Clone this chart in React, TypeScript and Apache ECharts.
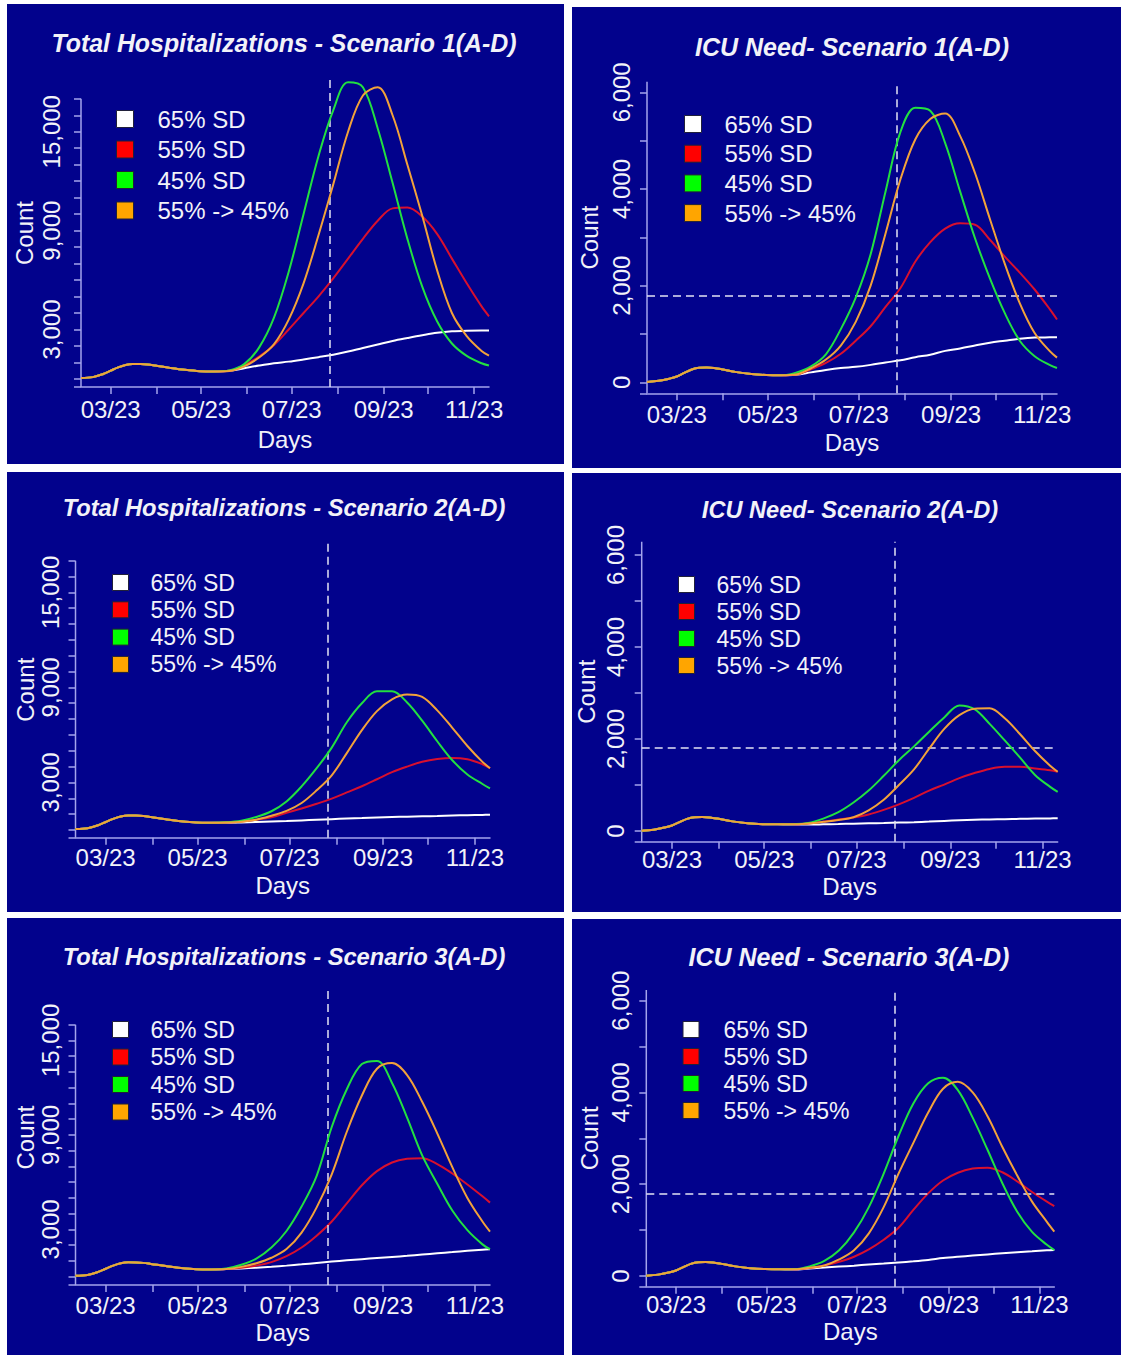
import React, { useEffect, useRef } from 'react';
import * as echarts from 'echarts';

// ---------- data ----------
const days = [-20, -12, -5, 0, 5, 10, 15, 20, 25, 30, 40, 50, 60, 70, 80, 90, 100, 110, 120, 130, 140, 150, 160, 170, 180, 190, 200, 210, 220, 230, 240, 250, 255];
const tickDays = [0, 31, 61, 92, 122, 153, 184, 214, 245];
const labelDays = [0, 61, 122, 184, 245];
const dayLabels = ['03/23', '05/23', '07/23', '09/23', '11/23'];
const seriesNames = ['65% SD', '55% SD', '45% SD', '55% -> 45%'];
const interventionDay = 147.5;
const icuCapacity = 1800;

const hospTicks = [0, 1000, 2000, 3000, 4000, 5000, 6000, 7000, 8000, 9000, 10000, 11000, 12000, 13000, 14000, 15000, 16000, 17000];
const hospTicksS3 = [0, 1000, 2000, 3000, 4000, 5000, 6000, 7000, 8000, 9000, 10000, 11000, 12000, 13000, 14000, 15000, 16000];
const hospLabels = [3000, 9000, 15000];
const icuTicks = [0, 1000, 2000, 3000, 4000, 5000, 6000];
const icuLabels = [0, 2000, 4000, 6000];

// common early part (days -20 .. 70)
const hospEarly = [60, 110, 300, 500, 700, 850, 910, 905, 875, 810, 670, 550, 470, 455];
const icuEarly = [5, 30, 75, 120, 195, 265, 300, 305, 295, 270, 210, 170, 150, 145];

// days 80 .. 250, 255
const hospS1White = [490, 650, 810, 950, 1050, 1180, 1320, 1470, 1660, 1880, 2090, 2300, 2480, 2650, 2800, 2890, 2930, 2940, 2940];
const hospS1Red = [490, 850, 1350, 2050, 3000, 4000, 5000, 6100, 7300, 8500, 9600, 10350, 10400, 9850, 8800, 7300, 5800, 4400, 3800];
const hospS1Green = [520, 900, 1900, 3700, 6500, 10000, 13500, 16300, 18000, 17700, 15200, 11900, 8500, 5600, 3500, 2150, 1400, 950, 810];
const hospS1Orange = [480, 760, 1300, 2100, 3600, 5800, 8700, 11800, 15000, 17200, 17700, 16000, 13000, 9900, 6600, 4000, 2600, 1700, 1414];

const icuS1White = [155, 205, 255, 295, 320, 360, 410, 455, 520, 570, 650, 700, 760, 820, 860, 900, 925, 930, 931];
const icuS1Red = [160, 270, 400, 590, 860, 1160, 1560, 1950, 2500, 2900, 3180, 3290, 3260, 2950, 2600, 2270, 1920, 1520, 1300];
const icuS1Green = [200, 330, 580, 1100, 1750, 2650, 3950, 5180, 5680, 5620, 4950, 3950, 2980, 2150, 1430, 860, 540, 360, 295];
const icuS1Orange = [160, 290, 470, 760, 1250, 2000, 3080, 4200, 5030, 5450, 5560, 5100, 4330, 3380, 2450, 1640, 1020, 650, 510];

const hospS2White = [450, 470, 500, 530, 560, 600, 640, 680, 720, 750, 780, 810, 840, 860, 880, 910, 930, 950, 955];
const hospS2Red = [470, 540, 650, 800, 1080, 1350, 1650, 1980, 2370, 2760, 3200, 3650, 4000, 4300, 4480, 4550, 4460, 4150, 3910];
const hospS2Green = [480, 580, 820, 1180, 1800, 2750, 3900, 5200, 6800, 8000, 8750, 8750, 8050, 6900, 5600, 4400, 3500, 2900, 2620];
const hospS2Orange = [470, 520, 650, 900, 1200, 1700, 2500, 3450, 4850, 6300, 7500, 8250, 8550, 8400, 7550, 6450, 5300, 4300, 3900];

const icuS2White = [140, 140, 145, 152, 160, 168, 175, 183, 192, 205, 220, 235, 245, 252, 258, 265, 270, 275, 277];
const icuS2Red = [145, 165, 200, 250, 295, 360, 460, 580, 720, 880, 1010, 1150, 1260, 1350, 1395, 1395, 1360, 1320, 1290];
const icuS2Green = [150, 175, 270, 410, 620, 880, 1200, 1540, 1840, 2160, 2470, 2730, 2650, 2330, 1970, 1600, 1220, 960, 850];
const icuS2Orange = [145, 165, 200, 240, 300, 450, 680, 1000, 1340, 1790, 2220, 2520, 2660, 2670, 2450, 2110, 1740, 1420, 1290];

const hospS3White = [480, 520, 570, 630, 700, 780, 870, 960, 1040, 1110, 1180, 1250, 1320, 1400, 1480, 1560, 1640, 1710, 1740];
const hospS3Red = [480, 560, 700, 920, 1300, 1850, 2600, 3500, 4650, 5800, 6700, 7250, 7480, 7520, 7150, 6550, 5850, 5100, 4700];
const hospS3Green = [520, 760, 1150, 1850, 2900, 4450, 6400, 9500, 11900, 13500, 13700, 12300, 10100, 7700, 5900, 4200, 2950, 2050, 1740];
const hospS3Orange = [480, 620, 850, 1200, 1750, 2800, 4400, 6500, 9200, 11500, 13200, 13560, 12800, 11100, 9100, 6950, 5000, 3500, 2860];

const icuS3White = [140, 165, 185, 205, 225, 250, 270, 295, 320, 350, 390, 420, 445, 470, 495, 520, 540, 560, 566];
const icuS3Red = [145, 175, 230, 310, 420, 580, 790, 1050, 1440, 1800, 2080, 2250, 2340, 2360, 2260, 2060, 1830, 1620, 1525];
const icuS3Green = [150, 210, 330, 560, 950, 1500, 2230, 3050, 3760, 4200, 4320, 4050, 3450, 2750, 2020, 1400, 960, 680, 566];
const icuS3Orange = [145, 180, 230, 360, 560, 930, 1500, 2230, 2900, 3560, 4080, 4230, 4000, 3480, 2810, 2190, 1620, 1180, 966];

// ---------- style ----------
const BG = '#02028C';
const AXIS = '#A4A4EC';
const TEXT = '#F2F2F8';
const FONT = '"Liberation Sans", Arial, Helvetica, sans-serif';
const lineColors = ['#FFFFFF', '#D8102E', '#22E040', '#F2A23A'];
const legendColors = ['#FFFFFF', '#FF0000', '#00FF00', '#FFA500'];

const panels = [
  {
    box: [7, 4, 557, 460], grid: [74, 75, 408, 308], title: 'Total Hospitalizations - Scenario 1(A-D)', titlePos: [277, 39], titleSize: 24.9,
    yMin: -490, yMax: 18200, axisTop: 17000, ticks: hospTicks, labels: hospLabels, early: hospEarly,
    vals: [hospS1White, hospS1Red, hospS1Green, hospS1Orange], hLine: false,
    legend: [109, 103, 6.5, 17, 24, 19], countGap: 45, daysGap: 40, xMargin: 10, yMargin: 18,
  },
  {
    box: [572, 7, 549, 461], grid: [75, 74.7, 410, 311.6], title: 'ICU Need- Scenario 1(A-D)', titlePos: [280, 40], titleSize: 25,
    yMin: -228, yMax: 6220, axisTop: 6220, ticks: icuTicks, labels: icuLabels, early: icuEarly,
    vals: [icuS1White, icuS1Red, icuS1Green, icuS1Orange], hLine: true,
    legend: [112, 105, 5.7, 17, 24, 18], countGap: 46, daysGap: 37, xMargin: 9, yMargin: 14,
  },
  {
    box: [7, 472, 557, 440], grid: [68.5, 69.7, 414.5, 296], title: 'Total Hospitalizations - Scenario 2(A-D)', titlePos: [277, 36], titleSize: 23.7,
    yMin: -490, yMax: 18200, axisTop: 17000, ticks: hospTicks, labels: hospLabels, early: hospEarly,
    vals: [hospS2White, hospS2Red, hospS2Green, hospS2Orange], hLine: false,
    legend: [105, 99, 4.3, 16, 23, 17], countGap: 38, daysGap: 36, xMargin: 8, yMargin: 13,
  },
  {
    box: [572, 473, 549, 439], grid: [69.7, 68.7, 416, 300], title: 'ICU Need- Scenario 2(A-D)', titlePos: [278, 37], titleSize: 23.6,
    yMin: -232, yMax: 6290, axisTop: 6290, ticks: icuTicks, labels: icuLabels, early: icuEarly,
    vals: [icuS2White, icuS2Red, icuS2Green, icuS2Orange], hLine: true,
    legend: [106, 100, 4, 16, 23, 17], countGap: 43, daysGap: 33, xMargin: 6, yMargin: 14,
  },
  {
    box: [7, 918, 557, 437], grid: [68.5, 72, 414.5, 295], title: 'Total Hospitalizations - Scenario 3(A-D)', titlePos: [277, 38.7], titleSize: 23.7,
    yMin: -530, yMax: 18200, axisTop: 16000, ticks: hospTicksS3, labels: hospLabels, early: hospEarly,
    vals: [hospS3White, hospS3Red, hospS3Green, hospS3Orange], hLine: false,
    legend: [105, 100, 4.5, 16, 23, 17], countGap: 38, daysGap: 35, xMargin: 8, yMargin: 13,
  },
  {
    box: [572, 919, 549, 436], grid: [74.3, 71, 408, 296.7], title: 'ICU Need - Scenario 3(A-D)', titlePos: [277, 37.7], titleSize: 25,
    yMin: -233, yMax: 6231, axisTop: 6231, ticks: icuTicks, labels: icuLabels, early: icuEarly,
    vals: [icuS3White, icuS3Red, icuS3Green, icuS3Orange], hLine: true,
    legend: [110.5, 99, 4, 16, 23, 19.5], countGap: 45, daysGap: 33, xMargin: 6, yMargin: 14,
  },
];

const X_MIN = -20;
const X_MAX = 255;

function buildOption(cfg: any) {
  const dashed = { type: [8, 5], color: '#E4E4F4', width: 1.5 };
  const markData: any[] = [{ xAxis: interventionDay, lineStyle: dashed }];
  if (cfg.hLine) markData.push({ yAxis: icuCapacity, lineStyle: dashed });

  const series: any[] = cfg.vals.map((late: number[], i: number) => {
    const vals = cfg.early.concat(late);
    return {
      name: seriesNames[i],
      type: 'line',
      data: days.map((d, j) => [d, vals[j]]),
      smooth: 0.35,
      showSymbol: false,
      symbol: 'none',
      lineStyle: { color: lineColors[i], width: 2 },
      itemStyle: { color: lineColors[i] },
      z: 3 + i,
      markLine: i === 0 ? { silent: true, symbol: ['none', 'none'], label: { show: false }, data: markData } : undefined,
    };
  });
  // left axis line, drawn from the axis minimum to its last tick
  series.push({
    name: 'axis',
    type: 'line',
    data: [[X_MIN, cfg.yMin], [X_MIN, cfg.axisTop]],
    showSymbol: false,
    symbol: 'none',
    clip: false,
    silent: true,
    lineStyle: { color: AXIS, width: 1.5 },
    z: 2,
  });

  const [lgLeft, lgTop, lgGap, lgSize, lgFont, lgPad] = cfg.legend;
  const [gl, gt, gw, gh] = cfg.grid;
  const textBase = { color: TEXT, fontFamily: FONT, fontSize: 24 };

  return {
    animation: false,
    backgroundColor: BG,
    grid: { left: gl, top: gt, width: gw, height: gh, containLabel: false, outerBoundsMode: 'none' },
    graphic: [
      {
        type: 'text', x: cfg.titlePos[0], y: cfg.titlePos[1],
        style: {
          text: cfg.title, fill: TEXT, font: `italic bold ${cfg.titleSize}px ${FONT}`,
          align: 'center', verticalAlign: 'middle',
        },
      },
    ],
    legend: {
      data: seriesNames.map((n, i) => ({ name: n, itemStyle: { color: legendColors[i], borderColor: '#20203a', borderWidth: 1 } })),
      orient: 'vertical', left: lgLeft, top: lgTop, itemGap: lgGap, itemWidth: lgSize, itemHeight: lgSize,
      icon: 'rect', padding: 0, selectedMode: false,
      textStyle: { color: TEXT, fontFamily: FONT, fontSize: lgFont, padding: [0, 0, 0, lgPad] },
    },
    xAxis: {
      type: 'value', min: X_MIN, max: X_MAX,
      name: 'Days', nameLocation: 'middle', nameGap: cfg.daysGap, nameTextStyle: textBase, nameMoveOverlap: false,
      axisLine: { show: true, onZero: false, lineStyle: { color: AXIS, width: 1.5 } },
      axisTick: { show: true, inside: false, length: 7, customValues: tickDays, lineStyle: { color: AXIS, width: 1.5 } },
      axisLabel: {
        customValues: labelDays, margin: cfg.xMargin, ...textBase,
        formatter: (v: number) => dayLabels[labelDays.indexOf(Math.round(v))] ?? '',
      },
      splitLine: { show: false },
    },
    yAxis: {
      type: 'value', min: cfg.yMin, max: cfg.yMax,
      name: 'Count', nameLocation: 'middle', nameGap: cfg.countGap, nameTextStyle: textBase, nameMoveOverlap: false,
      axisLine: { show: false, onZero: false },
      axisTick: { show: true, inside: false, length: 7, customValues: [cfg.yMin].concat(cfg.ticks), lineStyle: { color: AXIS, width: 1.5 } },
      axisLabel: {
        customValues: cfg.labels, rotate: 90, margin: cfg.yMargin, ...textBase,
        formatter: (v: number) => Number(v).toLocaleString('en-US'),
      },
      splitLine: { show: false },
    },
    series,
  };
}

function Panel({ cfg }: { cfg: any }) {
  const ref = useRef<HTMLDivElement>(null);
  useEffect(() => {
    if (!ref.current) return;
    const chart = echarts.init(ref.current, null, { renderer: 'svg' });
    chart.setOption(buildOption(cfg));
    return () => chart.dispose();
  }, [cfg]);
  const [x, y, w, h] = cfg.box;
  return <div ref={ref} style={{ position: 'absolute', left: x, top: y, width: w, height: h }} />;
}

export default function App() {
  return (
    <div style={{ position: 'absolute', left: 0, top: 0, width: 1121, height: 1355, background: '#ffffff', overflow: 'hidden' }}>
      {panels.map((p, i) => (
        <Panel key={i} cfg={p} />
      ))}
    </div>
  );
}
